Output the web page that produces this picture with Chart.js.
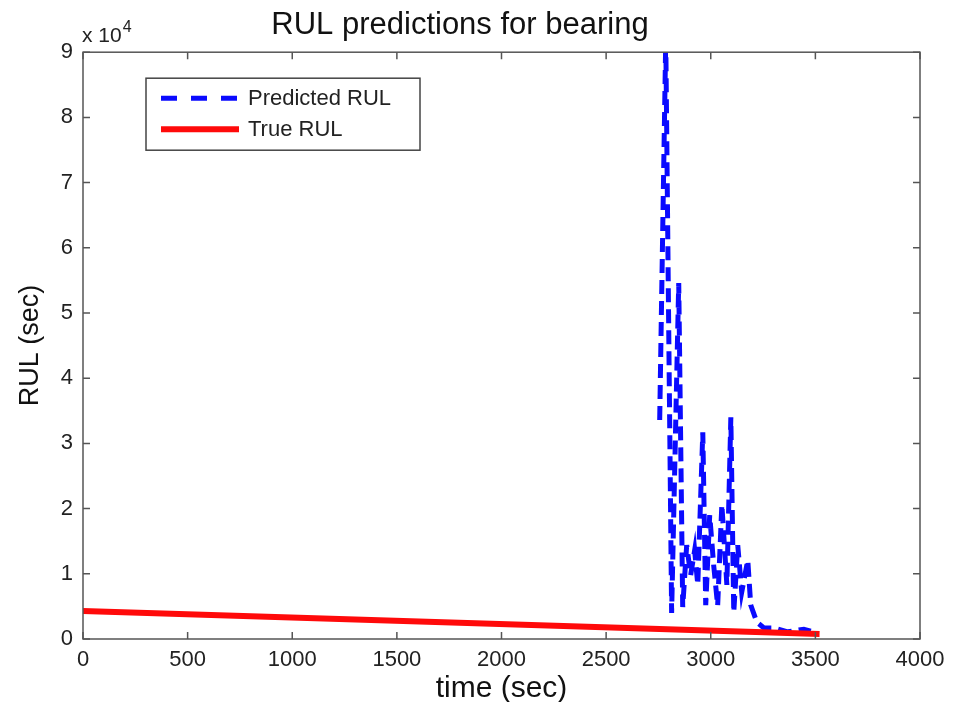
<!DOCTYPE html>
<html>
<head>
<meta charset="utf-8">
<script src="https://cdn.jsdelivr.net/npm/chart.js@4.4.1/dist/chart.umd.min.js"></script>
<style>
  html, body { margin: 0; padding: 0; background: #fff; }
  #wrap { width: 956px; height: 702px; }
</style>
</head>
<body>
<div id="wrap"><canvas id="rul-chart"></canvas></div>
<script>
// time axis (sec) and predicted RUL
const predTime = [2756, 2785, 2813, 2847, 2866, 2885, 2904, 2923, 2938, 2962, 2976, 2995, 3014, 3033,
                  3053, 3077, 3096, 3110, 3129, 3148, 3177, 3191, 3220, 3254, 3301, 3368, 3445, 3478];
const predRul  = [33600, 92000, 4000, 54600, 4900, 14400, 9800, 13600, 8300, 31700, 5200, 19000, 11300, 5100,
                  20600, 8300, 34000, 4100, 14400, 7200, 12100, 5200, 2600, 1700, 1700, 1100, 1500, 1200];

// true RUL goes down in a straight line
const trueTime = [0, 3520];
const trueRul  = [4300, 780];

const xTicks = [0, 500, 1000, 1500, 2000, 2500, 3000, 3500, 4000];
const yTicks = [0, 10000, 20000, 30000, 40000, 50000, 60000, 70000, 80000, 90000];

const FONT = "'Liberation Sans', Arial, Helvetica, sans-serif";
const toPoints = (xs, ys) => xs.map((x, i) => ({ x: x, y: ys[i] }));

// matlab style box with ticks pointing inwards, the legend and the "x 10^4"
const matlabBox = {
  id: 'matlabBox',
  afterDraw(chart) {
    const ctx = chart.ctx;
    const a = chart.chartArea;
    const xs = chart.scales.x, ys = chart.scales.y;
    const tl = 7;
    ctx.save();
    ctx.strokeStyle = '#555';
    ctx.lineWidth = 1.5;
    ctx.strokeRect(a.left, a.top, a.right - a.left, a.bottom - a.top);
    ctx.beginPath();
    xTicks.forEach(v => {
      const px = xs.getPixelForValue(v);
      ctx.moveTo(px, a.bottom); ctx.lineTo(px, a.bottom - tl);
      ctx.moveTo(px, a.top); ctx.lineTo(px, a.top + tl);
    });
    yTicks.forEach(v => {
      const py = ys.getPixelForValue(v);
      ctx.moveTo(a.left, py); ctx.lineTo(a.left + tl, py);
      ctx.moveTo(a.right, py); ctx.lineTo(a.right - tl, py);
    });
    ctx.stroke();

    // exponent label
    ctx.fillStyle = '#222';
    ctx.textBaseline = 'alphabetic';
    ctx.textAlign = 'left';
    ctx.font = '21px ' + FONT;
    ctx.fillText('x 10', a.left - 1, a.top - 10);
    const w = ctx.measureText('x 10').width;
    ctx.font = '16px ' + FONT;
    ctx.fillText('4', a.left + w, a.top - 20);

    // legend
    const lx = a.left + 63, ly = a.top + 26, lw = 274, lh = 72;
    ctx.fillStyle = '#fff';
    ctx.fillRect(lx, ly, lw, lh);
    ctx.strokeStyle = '#444';
    ctx.lineWidth = 1.5;
    ctx.strokeRect(lx, ly, lw, lh);
    chart.data.datasets.forEach((ds, i) => {
      const ry = ly + 20 + i * 31;
      ctx.beginPath();
      ctx.strokeStyle = ds.borderColor;
      ctx.lineWidth = ds.borderWidth;
      ctx.setLineDash(ds.borderDash ? [16, 14] : []);
      ctx.moveTo(lx + 15, ry);
      ctx.lineTo(lx + 93, ry);
      ctx.stroke();
      ctx.setLineDash([]);
      ctx.fillStyle = '#222';
      ctx.font = '22px ' + FONT;
      ctx.textBaseline = 'middle';
      ctx.fillText(ds.label, lx + 102, ry + 1);
    });
    ctx.restore();
  }
};

new Chart(document.getElementById('rul-chart'), {
  type: 'line',
  data: {
    datasets: [
      {
        label: 'Predicted RUL',
        data: toPoints(predTime, predRul),
        borderColor: '#0a0aff',
        borderWidth: 5,
        borderDash: [14, 7],
        pointRadius: 0,
        tension: 0,
        order: 1
      },
      {
        label: 'True RUL',
        data: toPoints(trueTime, trueRul),
        borderColor: '#ff0a0a',
        borderWidth: 6,
        pointRadius: 0,
        tension: 0,
        order: 0
      }
    ]
  },
  options: {
    responsive: true,
    maintainAspectRatio: false,
    animation: false,
    layout: { padding: { top: 0, right: 36, bottom: 0, left: 0 } },
    plugins: {
      legend: { display: false },
      tooltip: { enabled: false },
      title: {
        display: true,
        text: 'RUL predictions for bearing',
        color: '#111',
        font: { family: FONT, size: 31, weight: 'normal', lineHeight: 1.2 },
        padding: { top: 7, bottom: 8 }
      }
    },
    scales: {
      x: {
        type: 'linear',
        min: 0,
        max: 4000,
        afterFit: s => { s.height = 63; },
        afterBuildTicks: s => { s.ticks = xTicks.map(v => ({ value: v })); },
        grid: { display: false, drawTicks: false },
        border: { display: false },
        ticks: { color: '#222', padding: 8, maxRotation: 0, autoSkip: false,
                 font: { family: FONT, size: 22 },
                 callback: v => String(v) },
        title: { display: true, text: 'time (sec)', color: '#111',
                 font: { family: FONT, size: 30, lineHeight: 0.9 }, padding: { top: 0, bottom: 0 } }
      },
      y: {
        min: 0,
        max: 90000,
        afterFit: s => { s.width = 83; },
        afterBuildTicks: s => { s.ticks = yTicks.map(v => ({ value: v })); },
        grid: { display: false, drawTicks: false },
        border: { display: false },
        ticks: { color: '#222', padding: 10, autoSkip: false,
                 font: { family: FONT, size: 22 },
                 callback: v => String(v / 10000) },
        title: { display: true, text: 'RUL (sec)', color: '#111',
                 font: { family: FONT, size: 27, lineHeight: 1.2 }, padding: { top: 14, bottom: 0 } }
      }
    }
  },
  plugins: [matlabBox]
});
</script>
</body>
</html>
